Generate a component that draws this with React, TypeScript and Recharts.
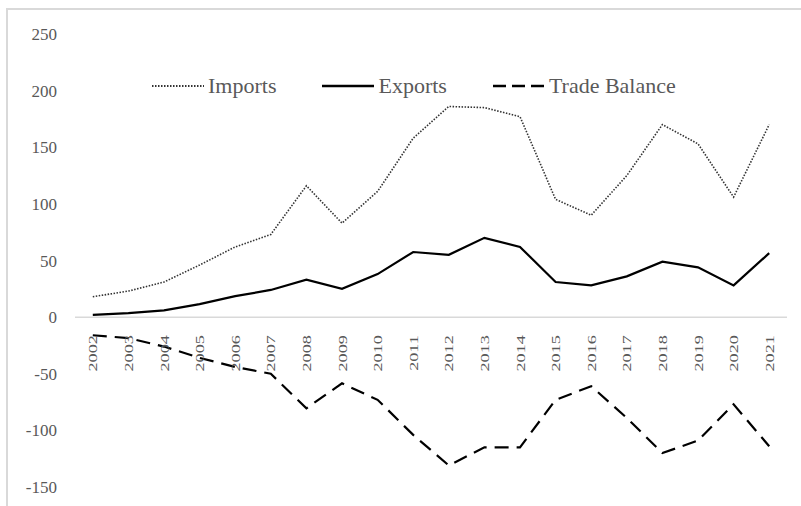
import React from 'react';
import { LineChart, Line, XAxis, YAxis, Legend, ReferenceLine } from 'recharts';

const years = ['2002', '2003', '2004', '2005', '2006', '2007', '2008', '2009', '2010', '2011',
    '2012', '2013', '2014', '2015', '2016', '2017', '2018', '2019', '2020', '2021'];
const imports = [18, 23, 31, 46, 62, 73, 116, 83, 111, 158, 186, 185, 177, 104, 90, 125, 170, 153, 106, 170];
const exports = [2, 3.5, 6, 11.5, 18.5, 24, 33, 25, 38, 57.5, 55, 70, 62, 31, 28, 36, 49, 44, 28, 56.5];
const tradeBalance = [-16, -18.5, -26, -36, -44, -50, -80.5, -58.5, -73, -104, -131, -115, -115, -73, -61, -89, -120, -109, -77, -114];
const yTicks = [-150, -100, -50, 0, 50, 100, 150, 200, 250];

const data = years.map((year, i) => ({
    year,
    imports: imports[i],
    exports: exports[i],
    tradeBalance: tradeBalance[i],
}));

const series = [
    {key: 'imports', name: 'Imports', stroke: '#333333', width: 1.6, dash: '1.5 1.5', legendDash: '1.5 1.5'},
    {key: 'exports', name: 'Exports', stroke: '#000000', width: 2.2, dash: undefined, legendDash: undefined},
    {key: 'tradeBalance', name: 'Trade Balance', stroke: '#000000', width: 2.2, dash: '14 8', legendDash: '13 6'},
];

const W = 801;
const H = 506;
const margin = {top: 34, right: 14, bottom: 18, left: 15};
const X_AXIS_H = 1;
const Y_MIN = -150;
const Y_MAX = 250;
const FONT = '"Liberation Serif", "Times New Roman", serif';
const TEXT = '#595959';

// x axis sits at bottom of the plot, so shift its labels up to the zero line
const plotH = H - margin.top - margin.bottom - X_AXIS_H;
const zeroShift = plotH * (0 - Y_MIN) / (Y_MAX - Y_MIN);

const YearTick = (props: any) => {
    const {x, y, payload} = props;
    return (
        <text
            transform={`translate(${x},${y - zeroShift + 18}) rotate(-90) scale(1.35,1)`}
            textAnchor="end"
            dominantBaseline="central"
            fontFamily={FONT}
            fontSize={13.5}
            fill={TEXT}
        >
            {payload.value}
        </text>
    );
};

const LegendContent = () => (
    <div style={{display: 'flex', alignItems: 'center', height: 30, fontFamily: FONT}}>
        {series.map(s => (
            <div key={s.key} style={{display: 'flex', alignItems: 'center', marginRight: 46}}>
                <svg width={52} height={6}>
                    <line x1={0} y1={3} x2={52} y2={3} stroke={s.stroke}
                          strokeWidth={s.width + 0.4} strokeDasharray={s.legendDash}/>
                </svg>
                <span style={{marginLeft: 4, fontSize: 22, lineHeight: '30px', color: TEXT, whiteSpace: 'nowrap'}}>
                    {s.name}
                </span>
            </div>
        ))}
    </div>
);

export default function App() {
    return (
        <div style={{position: 'absolute', left: 0, top: 0, width: W, height: H, overflow: 'hidden', background: '#fff'}}>
            <div style={{
                position: 'absolute', left: 6, top: 8, width: 840, height: 540,
                border: '2px solid #d9d9d9', boxSizing: 'border-box',
            }}/>
            <div style={{position: 'absolute', left: 0, top: 0}}>
                <LineChart width={W} height={H} data={data} margin={margin}>
                    <XAxis
                        dataKey="year"
                        scale="band"
                        height={X_AXIS_H}
                        axisLine={false}
                        tickLine={false}
                        tickSize={0}
                        tickMargin={0}
                        interval={0}
                        tick={<YearTick/>}
                    />
                    <YAxis
                        width={60}
                        domain={[Y_MIN, Y_MAX]}
                        ticks={yTicks}
                        interval={0}
                        axisLine={false}
                        tickLine={false}
                        tickSize={0}
                        tickMargin={18}
                        tick={{fontFamily: FONT, fontSize: 17, fill: TEXT}}
                    />
                    <ReferenceLine y={0} stroke="#d9d9d9" strokeWidth={1.5}/>
                    <Legend
                        layout="horizontal"
                        verticalAlign="middle"
                        align="center"
                        content={<LegendContent/>}
                        wrapperStyle={{top: 71, left: 152, width: 'auto'}}
                    />
                    {series.map(s => (
                        <Line
                            key={s.key}
                            type="linear"
                            dataKey={s.key}
                            name={s.name}
                            stroke={s.stroke}
                            strokeWidth={s.width}
                            strokeDasharray={s.dash}
                            dot={false}
                            activeDot={false}
                            isAnimationActive={false}
                        />
                    ))}
                </LineChart>
            </div>
        </div>
    );
}
